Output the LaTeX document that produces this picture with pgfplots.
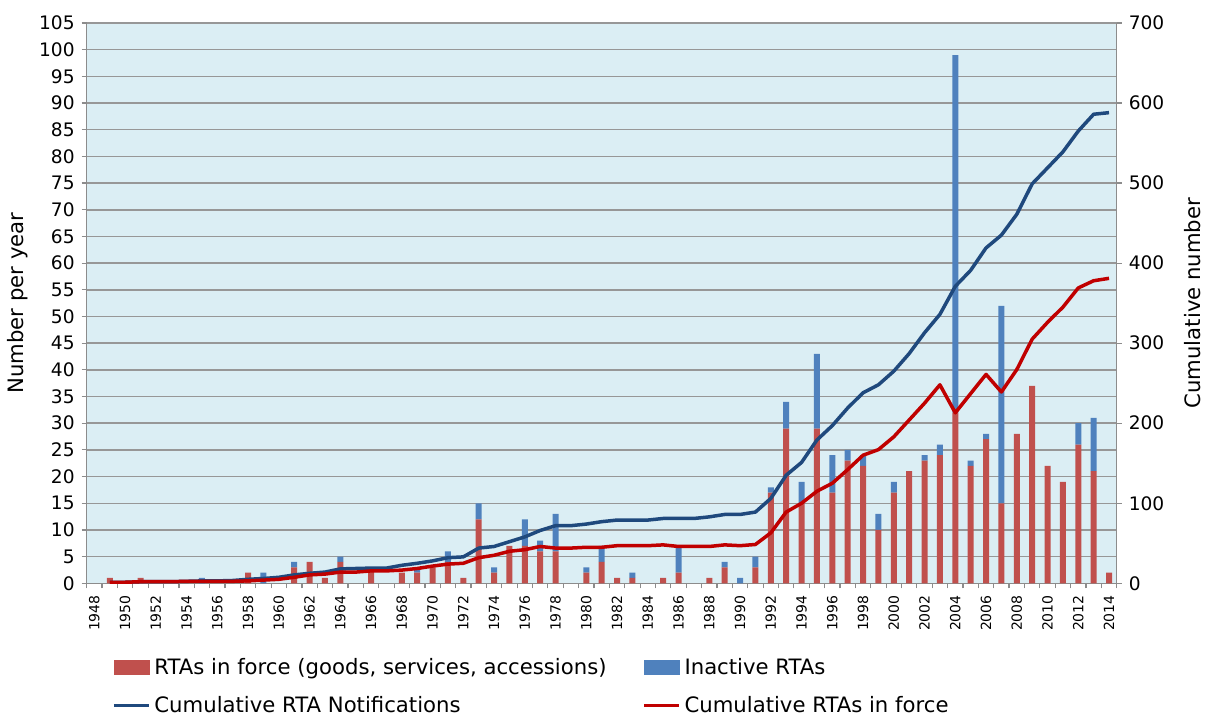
\documentclass[border=0pt]{standalone}
\usepackage{pgfplots}
\pgfplotsset{compat=1.18}
\usepackage{fontspec}
\setmainfont{DejaVu Sans}

\definecolor{barred}{RGB}{192,80,77}
\definecolor{barblue}{RGB}{79,129,189}
\definecolor{lineblue}{RGB}{31,73,125}
\definecolor{linered}{RGB}{192,0,0}
\definecolor{bgblue}{RGB}{219,238,244}
\definecolor{gridgray}{RGB}{140,140,140}

\pgfplotsset{
  rtabase/.style={
    scale only axis, width=515pt, height=280.15pt,
    xmin=1947.5, xmax=2014.5,
    tick align=outside,
    major tick length=2.5pt, minor tick length=2.5pt,
    tick style={draw=gridgray, line width=0.6pt},
    axis line style={draw=gridgray, line width=0.6pt},
    /pgf/number format/assume math mode=true,
    y tick label style={font=\fontsize{9.3}{10}\selectfont},
    ylabel style={font=\fontsize{10.6}{12}\selectfont},
  },
}

\begin{document}
\begin{tikzpicture}
\useasboundingbox (-43.35pt,-67.35pt) rectangle (561.65pt,291.65pt);

\begin{axis}[
  rtabase,
  ymin=0, ymax=105,
  axis background/.style={fill=bgblue},
  axis x line*=bottom, axis y line*=left,
  ytick={0,5,...,105},
  ymajorgrids, grid style={draw=gridgray!90, line width=0.75pt},
  xtick={1948,1950,...,2014},
  minor xtick={1947.5,1948.5,...,2014.5},
  major x tick style={draw=none},
  x tick label style={rotate=90, anchor=east, font=\fontsize{7}{8}\selectfont,
    /pgf/number format/1000 sep={}},
  ylabel={Number per year},
  ylabel style={at={(axis description cs:-0.0667,0.5)}, anchor=center},
  ybar stacked, bar width=3pt,
  legend columns=2, legend cell align=left,
  legend style={at={(axis description cs:0.0246,-0.126)}, anchor=north west,
    draw=none, fill=none, inner sep=0pt, row sep=5.5pt,
    font=\fontsize{10.6}{12}\selectfont,
    /tikz/every even column/.append style={column sep=16pt}},
]
% RTAs in force
\addplot[fill=barred, draw=none, forget plot] coordinates {
(1948,0)(1949,1)(1950,0)(1951,1)(1952,0)(1953,0)(1954,0)(1955,0)(1956,0)(1957,0)
(1958,2)(1959,0)(1960,0)(1961,3)(1962,4)(1963,1)(1964,4)(1965,0)(1966,3)(1967,0)
(1968,2)(1969,2)(1970,3)(1971,4)(1972,1)(1973,12)(1974,2)(1975,7)(1976,7)(1977,6)
(1978,6)(1979,0)(1980,2)(1981,4)(1982,1)(1983,1)(1984,0)(1985,1)(1986,2)(1987,0)
(1988,1)(1989,3)(1990,0)(1991,3)(1992,17)(1993,29)(1994,15)(1995,29)(1996,17)(1997,23)
(1998,22)(1999,10)(2000,17)(2001,21)(2002,23)(2003,24)(2004,32)(2005,22)(2006,27)(2007,15)
(2008,28)(2009,37)(2010,22)(2011,19)(2012,26)(2013,21)(2014,2)
};
% Inactive RTAs
\addplot[fill=barblue, draw=none, forget plot] coordinates {
(1948,0)(1949,0)(1950,0)(1951,0)(1952,0)(1953,0)(1954,0)(1955,1)(1956,0)(1957,0)
(1958,0)(1959,2)(1960,0)(1961,1)(1962,0)(1963,0)(1964,1)(1965,0)(1966,0)(1967,0)
(1968,0)(1969,1)(1970,0)(1971,2)(1972,0)(1973,3)(1974,1)(1975,0)(1976,5)(1977,2)
(1978,7)(1979,0)(1980,1)(1981,3)(1982,0)(1983,1)(1984,0)(1985,0)(1986,5)(1987,0)
(1988,0)(1989,1)(1990,1)(1991,2)(1992,1)(1993,5)(1994,4)(1995,14)(1996,7)(1997,2)
(1998,2)(1999,3)(2000,2)(2001,0)(2002,1)(2003,2)(2004,67)(2005,1)(2006,1)(2007,37)
(2008,0)(2009,0)(2010,0)(2011,0)(2012,4)(2013,10)(2014,0)
};
\addlegendimage{legend image code/.code={\fill[barred] (0pt,-3.5pt) rectangle (17.5pt,3.5pt);}}
\addlegendentry{RTAs in force (goods, services, accessions)}
\addlegendimage{legend image code/.code={\fill[barblue] (0pt,-3.5pt) rectangle (17.5pt,3.5pt);}}
\addlegendentry{Inactive RTAs}
\addlegendimage{legend image code/.code={\draw[lineblue, line width=1.5pt] (0pt,0pt) -- (17.5pt,0pt);}}
\addlegendentry{Cumulative RTA Notifications}
\addlegendimage{legend image code/.code={\draw[linered, line width=1.5pt] (0pt,0pt) -- (17.5pt,0pt);}}
\addlegendentry{Cumulative RTAs in force}
\end{axis}

\begin{axis}[
  rtabase,
  ymin=0, ymax=700,
  axis x line=none, axis y line*=right,
  ytick={0,100,...,700},
  ylabel={Cumulative number},
  ylabel style={at={(axis description cs:1.0738,0.5)}, anchor=center},
]
% Cumulative RTA Notifications
\addplot[lineblue, line width=1.75pt, line join=round, no markers] coordinates {
(1949,1.3)(1950,1.3)(1951,2)(1952,2)(1953,2)(1954,2.5)(1955,3)(1956,3)(1957,3.5)(1958,5)
(1959,6)(1960,7.5)(1961,10.5)(1962,12.5)(1963,14)(1964,18)(1965,18.5)(1966,19)(1967,19)(1968,22.5)
(1969,25)(1970,28)(1971,32)(1972,33)(1973,44)(1974,46)(1975,52)(1976,58)(1977,66)(1978,72)
(1979,72)(1980,74)(1981,77)(1982,79)(1983,79)(1984,79)(1985,81)(1986,81)(1987,81)(1988,83)
(1989,86)(1990,86)(1991,89)(1992,106)(1993,135)(1994,151)(1995,179)(1996,197)(1997,219)(1998,238)
(1999,248)(2000,265)(2001,287)(2002,313)(2003,336)(2004,371)(2005,391)(2006,419)(2007,435)(2008,461)
(2009,499)(2010,519)(2011,539)(2012,565)(2013,586)(2014,588)
};
% Cumulative RTAs in force
\addplot[linered, line width=1.75pt, line join=round, no markers] coordinates {
(1949,1.3)(1950,1.3)(1951,2)(1952,2)(1953,2)(1954,2.5)(1955,2.5)(1956,2.5)(1957,2.5)(1958,3)
(1959,4)(1960,5)(1961,7.5)(1962,10.5)(1963,11.5)(1964,14)(1965,14)(1966,15.5)(1967,15.5)(1968,16.5)
(1969,18.5)(1970,21.5)(1971,24)(1972,25)(1973,32)(1974,35)(1975,40)(1976,42)(1977,46)(1978,44)
(1979,44)(1980,45)(1981,45)(1982,47)(1983,47)(1984,47)(1985,48)(1986,46)(1987,46)(1988,46)
(1989,48)(1990,47)(1991,48.5)(1992,63)(1993,89)(1994,100)(1995,115)(1996,125)(1997,142)(1998,160)
(1999,167)(2000,183)(2001,204)(2002,225)(2003,248)(2004,213)(2005,237)(2006,261)(2007,239)(2008,267)
(2009,305)(2010,326)(2011,345)(2012,369)(2013,378)(2014,381)
};
\end{axis}
\end{tikzpicture}
\end{document}
